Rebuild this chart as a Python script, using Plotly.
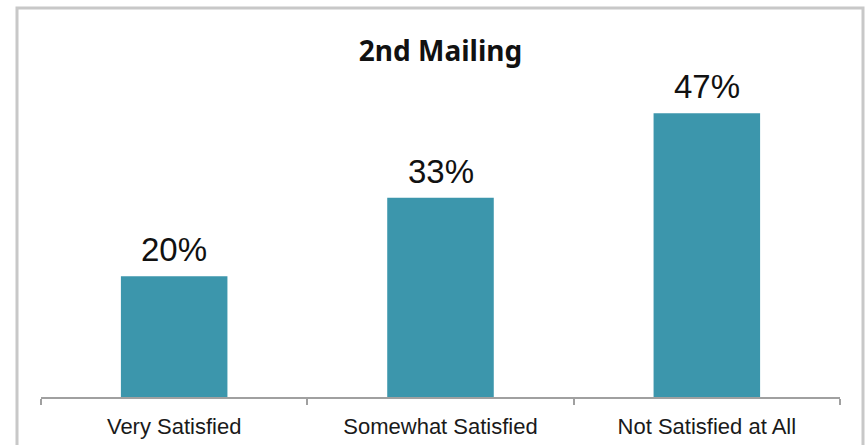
import plotly.graph_objects as go

categories = ["Very Satisfied", "Somewhat Satisfied", "Not Satisfied at All"]
values = [0.20, 0.33, 0.47]
labels = ["20%", "33%", "47%"]

W, H = 867, 445
ML, MR, MT, MB = 41, 27, 65, 48
pw, ph = W - ML - MR, H - MT - MB

def px_x(x):
    return (x - ML) / pw

def px_y(y):
    return (H - MB - y) / ph

fig = go.Figure(go.Bar(
    x=categories, y=values,
    marker=dict(color="#3c96ac", line=dict(width=0)),
    width=0.4, cliponaxis=False,
))

for c, v, t in zip(categories, values, labels):
    fig.add_annotation(x=c, y=v, text=t, showarrow=False, yanchor="bottom", yshift=6,
                       font=dict(family="Liberation Sans, Arial", size=33, color="#111111"))

fig.update_layout(
    width=W, height=H,
    margin=dict(l=ML, r=MR, t=MT, b=MB, autoexpand=False),
    paper_bgcolor="white", plot_bgcolor="white",
    showlegend=False,
    title=dict(text="<b>2nd Mailing</b>", x=0.5, xref="paper", xanchor="center",
               y=1 - 51 / H, yref="container", yanchor="middle",
               font=dict(family="Noto Sans", size=28, color="#111111")),
    xaxis=dict(showline=True, linecolor="#a0a0a0", linewidth=2, automargin=False,
               ticks="outside", tickson="boundaries", ticklen=6, tickcolor="#a0a0a0", tickwidth=2,
               tickfont=dict(family="Liberation Sans, Arial", size=22, color="#1a1a1a"),
               ticklabelstandoff=9, fixedrange=True),
    yaxis=dict(range=[0, 0.55], visible=False, showgrid=False, zeroline=False, automargin=False),
    shapes=[dict(type="rect", xref="paper", yref="paper",
                 x0=px_x(17), x1=px_x(863), y0=px_y(8), y1=px_y(460),
                 line=dict(color="#c8c8c8", width=3), layer="below")],
)

fig.write_html("out.html")
